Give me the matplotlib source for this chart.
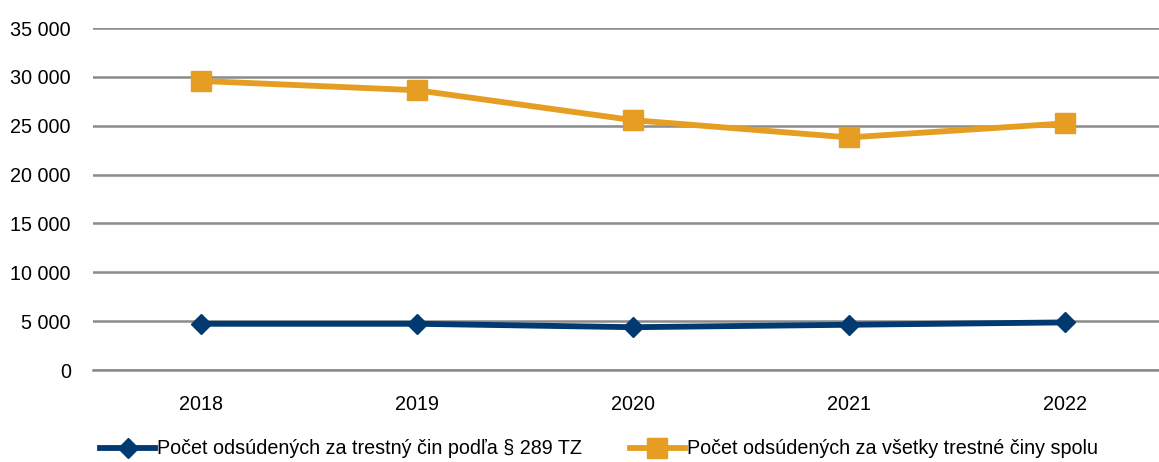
"""Počet odsúdených za trestný čin podľa § 289 TZ vs. všetky trestné činy."""

import matplotlib

matplotlib.use("Agg")
import matplotlib.pyplot as plt
from matplotlib.ticker import FuncFormatter

plt.rcParams["font.family"] = ["Liberation Sans Narrow", "Liberation Sans", "DejaVu Sans"]

# Data
years = ["2018", "2019", "2020", "2021", "2022"]
odsudeni_289 = [4730, 4730, 4380, 4630, 4870]
odsudeni_spolu = [29580, 28630, 25570, 23800, 25240]
label_289 = "Počet odsúdených za trestný čin podľa § 289 TZ"
label_spolu = "Počet odsúdených za všetky trestné činy spolu"
y_ticks = [0, 5000, 10000, 15000, 20000, 25000, 30000, 35000]

BLUE = "#003A70"
ORANGE = "#E59E22"
GRID = "#8A8A8A"
FS = 14.2

fig = plt.figure(figsize=(11.59, 4.62), dpi=100)
ax = fig.add_axes([93 / 1159, 92 / 462, (1159 - 93) / 1159, 342 / 462])

x = range(len(years))
ax.plot(x, odsudeni_289, color=BLUE, lw=4.2, marker="D", ms=10.5,
        markeredgecolor=BLUE, label=label_289, zorder=3)
ax.plot(x, odsudeni_spolu, color=ORANGE, lw=4.2, marker="s", ms=14.5,
        markeredgecolor=ORANGE, label=label_spolu, zorder=3)

ax.set_xlim(-0.5, (1159 - 201) / 216)
ax.set_ylim(0, 35000)
ax.set_xticks(list(x))
ax.set_xticklabels(years)
ax.set_yticks(y_ticks)
ax.yaxis.set_major_formatter(
    FuncFormatter(lambda v, _: f"{int(v):,}".replace(",", " "))
)
ax.grid(axis="y", color=GRID, lw=1.8)
ax.set_axisbelow(True)
for side in ["top", "right", "left"]:
    ax.spines[side].set_visible(False)
ax.spines["bottom"].set_color(GRID)
ax.spines["bottom"].set_linewidth(1.8)
ax.tick_params(axis="both", length=0, labelsize=FS, colors="black")
ax.tick_params(axis="x", pad=18)
ax.tick_params(axis="y", pad=16)

fig.legend(
    loc="center",
    bbox_to_anchor=(599 / 1159, 1 - 449 / 462),
    ncol=2,
    frameon=False,
    fontsize=FS,
    handlelength=2.8,
    handletextpad=0.1,
    columnspacing=2.4,
)

fig.savefig("out.png", dpi=100)
